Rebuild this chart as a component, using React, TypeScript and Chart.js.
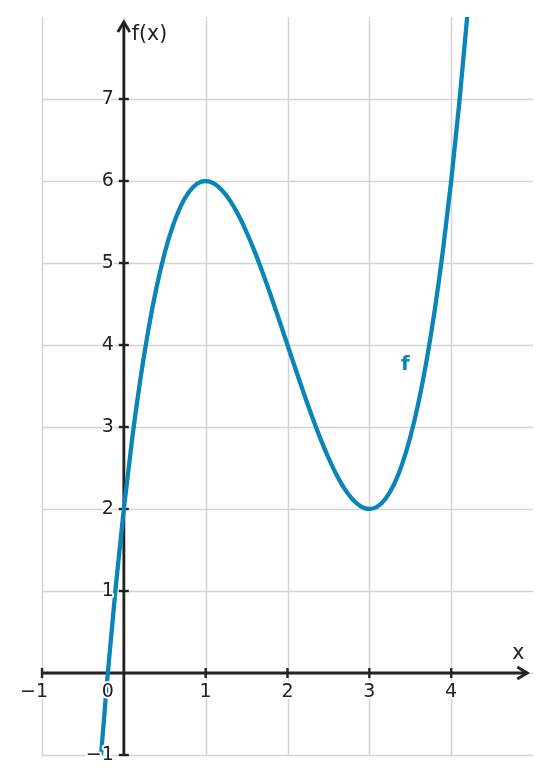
import React, { useEffect, useRef } from "react";
import { Chart, registerables } from "chart.js";

Chart.register(...registerables);

const xValues = [
  -0.3, -0.2, -0.1, 0, 0.1, 0.2, 0.3, 0.4, 0.5, 0.6, 0.7, 0.8, 0.9, 1.0,
  1.1, 1.2, 1.3, 1.4, 1.5, 1.6, 1.7, 1.8, 1.9, 2.0, 2.1, 2.2, 2.3, 2.4,
  2.5, 2.6, 2.7, 2.8, 2.9, 3.0, 3.1, 3.2, 3.3, 3.4, 3.5, 3.6, 3.7, 3.8,
  3.9, 4.0, 4.1, 4.2, 4.3,
];
const fValues = [
  -1.267, -0.048, 1.039, 2, 2.841, 3.568, 4.187, 4.704, 5.125, 5.456,
  5.703, 5.872, 5.969, 6, 5.971, 5.888, 5.757, 5.584, 5.375, 5.136, 4.873,
  4.592, 4.299, 4, 3.701, 3.408, 3.127, 2.864, 2.625, 2.416, 2.243, 2.112,
  2.029, 2, 2.031, 2.128, 2.297, 2.544, 2.875, 3.296, 3.813, 4.432, 5.159,
  6, 6.961, 8.048, 9.267,
];

const xGrid = [-1, 0, 1, 2, 3, 4];
const yGrid = [-1, 0, 1, 2, 3, 4, 5, 6, 7];
const xTickLabels = ["−1", "0", "1", "2", "3", "4"];
const yTickValues = [-1, 1, 2, 3, 4, 5, 6, 7];
const yTickLabels = ["−1", "1", "2", "3", "4", "5", "6", "7"];

const X_MIN = -1;
const X_MAX = 5;
const Y_MIN = -1;
const Y_MAX = 8;

const CURVE_COLOR = "#0a85b8";
const AXIS_COLOR = "#222222";
const GRID_COLOR = "#d4d4d4";
const FONT = "DejaVu Sans";

const axesPlugin = {
  id: "customAxes",
  beforeDatasetsDraw(chart: any) {
    const { ctx, chartArea, scales } = chart;
    const xs = scales.x;
    const ys = scales.y;
    ctx.save();
    // grid
    ctx.strokeStyle = GRID_COLOR;
    ctx.lineWidth = 1.5;
    xGrid.forEach((v) => {
      const px = Math.round(xs.getPixelForValue(v)) + 0.5;
      ctx.beginPath();
      ctx.moveTo(px, chartArea.top);
      ctx.lineTo(px, chartArea.bottom);
      ctx.stroke();
    });
    yGrid.forEach((v) => {
      const py = Math.round(ys.getPixelForValue(v)) + 0.5;
      ctx.beginPath();
      ctx.moveTo(chartArea.left, py);
      ctx.lineTo(chartArea.right, py);
      ctx.stroke();
    });
    // axes
    const x0 = xs.getPixelForValue(0);
    const y0 = ys.getPixelForValue(0);
    const xEnd = xs.getPixelForValue(4.93);
    const yEnd = ys.getPixelForValue(7.94);
    ctx.strokeStyle = AXIS_COLOR;
    ctx.lineWidth = 2.8;
    ctx.lineCap = "butt";
    ctx.beginPath();
    ctx.moveTo(chartArea.left, y0);
    ctx.lineTo(xEnd, y0);
    ctx.stroke();
    ctx.beginPath();
    ctx.moveTo(x0, chartArea.bottom);
    ctx.lineTo(x0, yEnd);
    ctx.stroke();
    // arrowheads
    ctx.lineJoin = "miter";
    ctx.beginPath();
    ctx.moveTo(xEnd - 10, y0 - 6);
    ctx.lineTo(xEnd, y0);
    ctx.lineTo(xEnd - 10, y0 + 6);
    ctx.stroke();
    ctx.beginPath();
    ctx.moveTo(x0 - 6, yEnd + 10);
    ctx.lineTo(x0, yEnd);
    ctx.lineTo(x0 + 6, yEnd + 10);
    ctx.stroke();
    // ticks
    ctx.lineWidth = 2.4;
    xGrid.forEach((v) => {
      if (v === 0) return;
      const px = xs.getPixelForValue(v);
      ctx.beginPath();
      ctx.moveTo(px, y0 - 5);
      ctx.lineTo(px, y0 + 5);
      ctx.stroke();
    });
    yTickValues.forEach((v) => {
      const py = ys.getPixelForValue(v);
      ctx.beginPath();
      ctx.moveTo(x0 - 5, py);
      ctx.lineTo(x0 + 5, py);
      ctx.stroke();
    });
    ctx.restore();
  },
  afterDatasetsDraw(chart: any) {
    const { ctx, scales } = chart;
    const xs = scales.x;
    const ys = scales.y;
    const x0 = xs.getPixelForValue(0);
    const y0 = ys.getPixelForValue(0);
    ctx.save();
    ctx.font = `19px "${FONT}"`;
    ctx.textBaseline = "middle";
    ctx.lineJoin = "round";
    const haloText = (t: string, x: number, y: number) => {
      ctx.strokeStyle = "#ffffff";
      ctx.lineWidth = 4;
      ctx.strokeText(t, x, y);
      ctx.fillStyle = AXIS_COLOR;
      ctx.fillText(t, x, y);
    };
    // x tick labels
    ctx.textAlign = "center";
    xGrid.forEach((v, i) => {
      let px = xs.getPixelForValue(v);
      if (v === 0) px -= 16;
      if (v < 0) px -= 8;
      haloText(xTickLabels[i], px, y0 + 19);
    });
    // y tick labels
    ctx.textAlign = "right";
    yTickValues.forEach((v, i) => {
      const py = ys.getPixelForValue(v);
      haloText(yTickLabels[i], x0 - 10, py);
    });
    // axis titles
    ctx.font = `20.5px "${FONT}"`;
    ctx.textAlign = "left";
    haloText("f(x)", x0 + 8, ys.getPixelForValue(7.78));
    ctx.textAlign = "center";
    haloText("x", xs.getPixelForValue(4.82), ys.getPixelForValue(0.24));
    // function label
    ctx.font = `bold 20px "${FONT}"`;
    ctx.fillStyle = CURVE_COLOR;
    ctx.fillText("f", xs.getPixelForValue(3.44), ys.getPixelForValue(3.76));
    ctx.restore();
  },
};

export default function App() {
  const canvasRef = useRef<HTMLCanvasElement | null>(null);
  useEffect(() => {
    if (!canvasRef.current) return;
    const chart = new Chart(canvasRef.current, {
      type: "line",
      data: {
        datasets: [
          {
            label: "f",
            data: xValues.map((x, i) => ({ x, y: fValues[i] })),
            borderColor: CURVE_COLOR,
            borderWidth: 4.3,
            pointRadius: 0,
            fill: false,
            cubicInterpolationMode: "monotone",
          },
        ],
      },
      options: {
        animation: false,
        responsive: true,
        maintainAspectRatio: false,
        layout: { padding: { left: 34, right: 10, top: 9, bottom: 20 } },
        plugins: { legend: { display: false }, tooltip: { enabled: false } },
        scales: {
          x: { type: "linear", min: X_MIN, max: X_MAX, display: false },
          y: { type: "linear", min: Y_MIN, max: Y_MAX, display: false },
        },
      },
      plugins: [axesPlugin],
    } as any);
    return () => chart.destroy();
  }, []);
  return (
    <div style={{ position: "relative", width: 535, height: 767 }}>
      <canvas ref={canvasRef} />
    </div>
  );
}
